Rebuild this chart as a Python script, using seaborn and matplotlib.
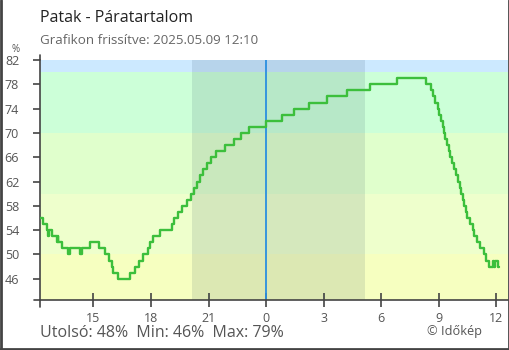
import matplotlib
matplotlib.use("Agg")
import matplotlib.pyplot as plt
from matplotlib.lines import Line2D
import seaborn as sns
import pandas as pd

sns.set_theme(style="white")
plt.rcParams["font.family"] = ["Open Sans", "DejaVu Sans"]

# Relative humidity of "Patak", hours relative to midnight (steps)
hours = [-11.79, -11.62, -11.44, -11.36, -11.30, -11.18, -10.92, -10.87, -10.83,
         -10.63, -10.31, -10.22, -9.70, -9.61, -9.18, -8.70, -8.40, -8.19,
         -8.06, -7.97, -7.70, -7.07, -6.85, -6.62, -6.40, -6.17, -6.05, -5.88,
         -5.53, -4.92, -4.78, -4.57, -4.40, -4.11, -3.90, -3.75, -3.60, -3.44,
         -3.27, -3.06, -2.85, -2.61, -2.12, -1.65, -1.29, -0.87, 0.02, 0.82,
         1.48, 2.26, 3.20, 4.21, 5.44, 6.85, 8.35, 8.59, 8.73, 8.83, 8.96,
         9.02, 9.13, 9.22, 9.29, 9.35, 9.46, 9.53, 9.60, 9.70, 9.81, 9.91,
         10.02, 10.12, 10.19, 10.28, 10.33, 10.43, 10.50, 10.64, 10.80, 10.85,
         10.99, 11.16, 11.37, 11.47, 11.62, 11.83, 11.90, 11.95, 12.09, 12.17]
humidity = [56, 55, 54, 53, 54, 53, 52, 53, 52,
            51, 50, 51, 50, 51, 52, 51, 50, 49,
            48, 47, 46, 47, 48, 49, 50, 51, 52, 53,
            54, 55, 56, 57, 58, 59, 60, 61, 62, 63,
            64, 65, 66, 67, 68, 69, 70, 71, 72, 73,
            74, 75, 76, 77, 78, 79, 78, 77, 76, 75, 74,
            73, 72, 71, 70, 69, 68, 67, 66, 65, 64, 63,
            62, 61, 60, 59, 58, 57, 56, 55, 54, 53,
            52, 51, 50, 49, 48, 49, 48, 49, 48, 48]

tick_hours = [-9, -6, -3, 0, 3, 6, 9, 12]
tick_labels = [str(h % 24) for h in tick_hours]
y_ticks = [46, 50, 54, 58, 62, 66, 70, 74, 78, 82]

# humidity bands (lower, upper, colour)
band_edges = [42.5, 50, 60, 70, 80, 82]
band_colors = ["#f6ffc0", "#eeffcc", "#e0ffcc", "#ccffd8", "#cce9ff"]

sunset, sunrise = -3.86, 5.16
x_min, x_max = -11.79, 12.62
y_min, y_max = 42.5, 82

df = pd.DataFrame({"hour": hours, "rh": humidity})

fig = plt.figure(figsize=(5.1, 3.5), dpi=100)
ax = fig.add_axes([40 / 510, 1 - 300 / 350, (508 - 40) / 510, 240 / 350])

for lo, hi, c in zip(band_edges[:-1], band_edges[1:], band_colors):
    ax.axhspan(lo, hi, color=c, lw=0, zorder=0)
ax.axvspan(sunset, sunrise, color="#10304a", alpha=0.11, lw=0, zorder=1)
ax.axvline(0, color="#2a8fe0", lw=1.3, zorder=2)

sns.lineplot(data=df, x="hour", y="rh", drawstyle="steps-post", color="#3cbf3c",
             lw=1.7, estimator=None, sort=False, ax=ax, zorder=3)

ax.set_xlim(x_min, x_max)
ax.set_ylim(y_min, y_max)
ax.set_xticks(tick_hours, tick_labels)
ax.set_yticks(y_ticks)
ax.set_xlabel("")
ax.set_ylabel("")

for s in ["top", "right"]:
    ax.spines[s].set_visible(False)
for s in ["left", "bottom"]:
    ax.spines[s].set_color("#444444")
    ax.spines[s].set_linewidth(1.2)

ax.tick_params(axis="x", direction="inout", length=10, width=1.2, color="#444444",
               labelsize=9, labelcolor="#555555", pad=4)
ax.tick_params(axis="y", direction="out", length=5, width=1.2, color="#444444",
               labelsize=9, labelcolor="#555555", pad=10)
ax.tick_params(axis="both", which="both", bottom=True, left=True)

# axis lines running a little past the plot corner
ax.add_line(Line2D([-6 / 468, 0], [0, 0], transform=ax.transAxes, color="#444444",
                   lw=1.2, clip_on=False))
ax.add_line(Line2D([0, 0], [-7 / 240, 0], transform=ax.transAxes, color="#444444",
                   lw=1.2, clip_on=False))
ax.add_line(Line2D([0, 0], [1, 1 + 5 / 240], transform=ax.transAxes, color="#444444",
                   lw=1.2, clip_on=False))

fig.text(40 / 510, 1 - 18 / 350, "Patak - Páratartalom", fontsize=11.5,
         color="#222222", va="center", ha="left")
fig.text(40 / 510, 1 - 41 / 350, "Grafikon frissítve: 2025.05.09 12:10",
         fontsize=9.6, color="#666666", va="center", ha="left")
fig.text(16 / 510, 1 - 50 / 350, "%", fontsize=7, color="#555555",
         va="center", ha="center")

last, lo_v, hi_v = humidity[-1], min(humidity), max(humidity)
fig.text(40 / 510, 1 - 333 / 350,
         f"Utolsó: {last}%  Min: {lo_v}%  Max: {hi_v}%",
         fontsize=11.5, color="#555555", va="center", ha="left")
fig.text(482 / 510, 1 - 331 / 350, "© Időkép", fontsize=9.2, color="#555555",
         va="center", ha="right")

# frame around the card
for xs, ys in [([1, 1], [0, 350]), ([509, 509], [0, 350]), ([0, 510], [349, 349])]:
    fig.add_artist(Line2D([x / 510 for x in xs], [1 - y / 350 for y in ys],
                          transform=fig.transFigure, color="#444444", lw=2))

fig.savefig("out.png", dpi=100)
